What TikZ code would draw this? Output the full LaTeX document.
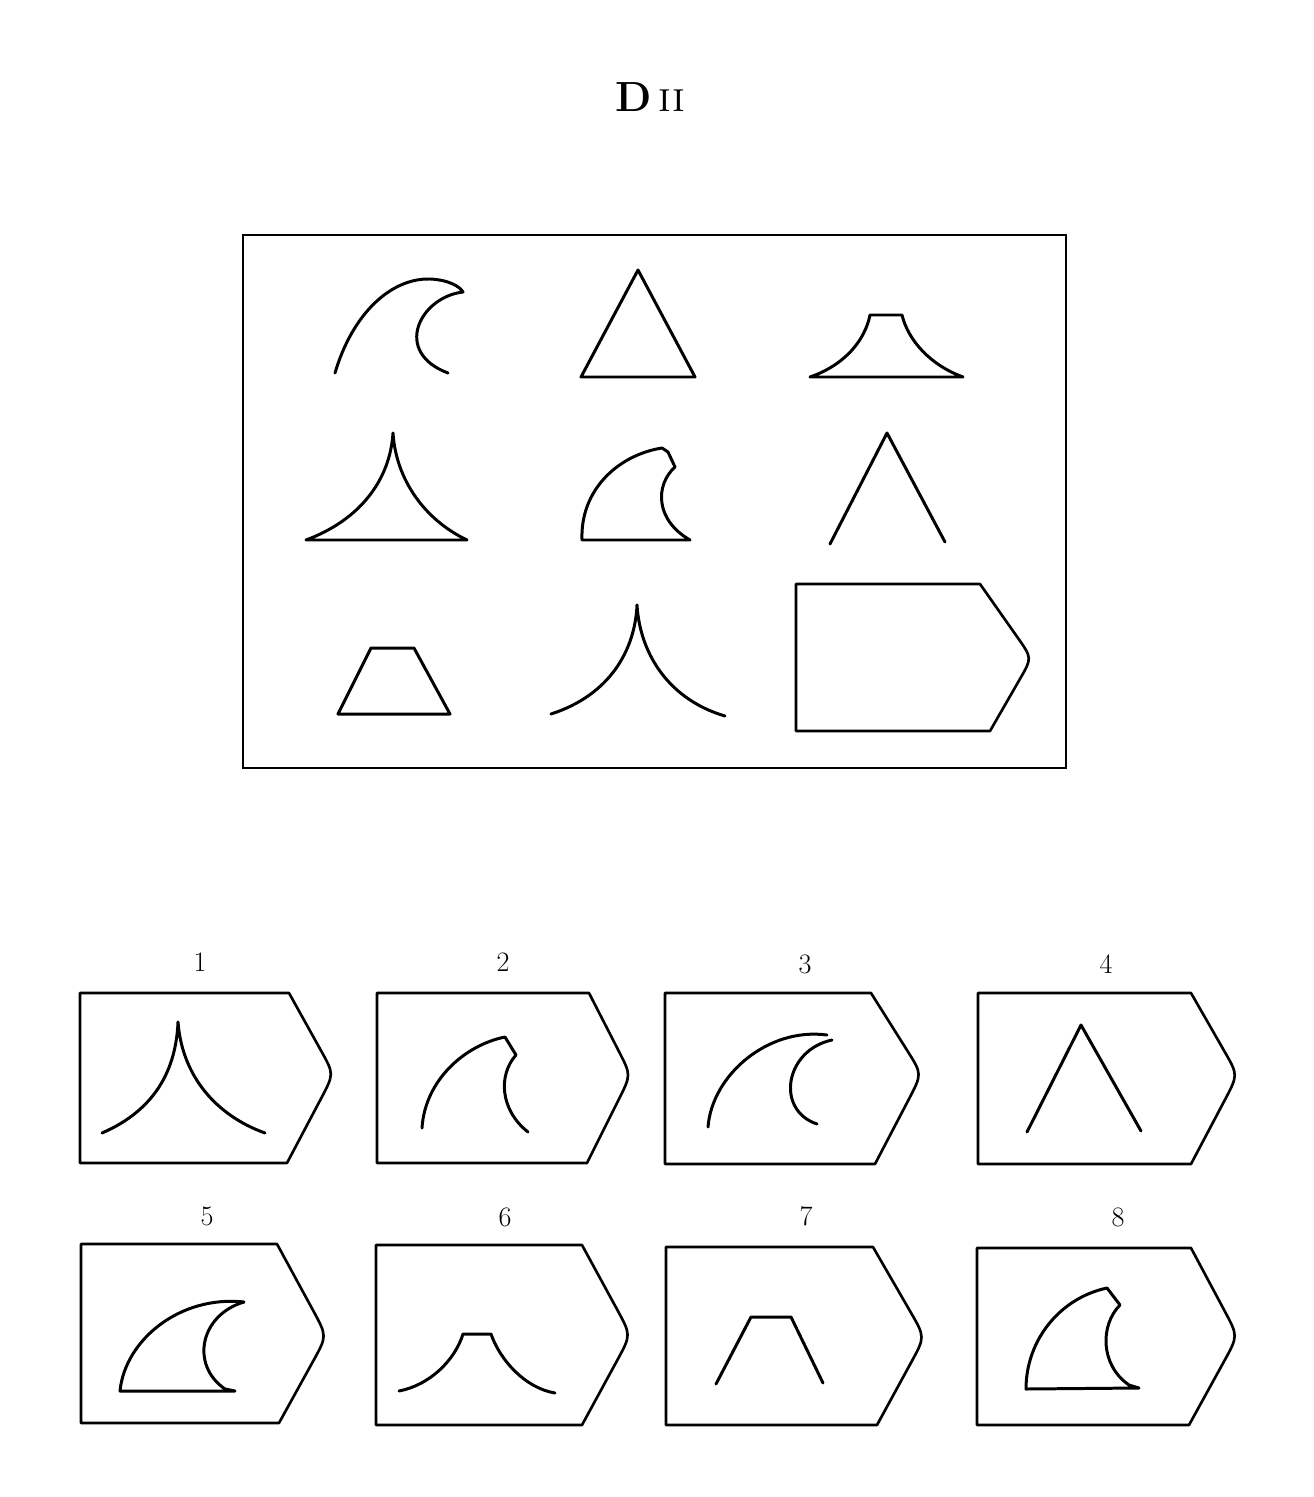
\documentclass[tikz,border=0pt]{standalone}
\usetikzlibrary{calc}

\tikzstyle{fS}=[line width=1.1pt]
\tikzstyle{sS}=[line width=1.7pt,line cap=round,line join=round]
\tikzstyle{bS}=[line width=1.5pt,line join=round]
\tikzstyle{lS}=[inner sep=0pt,font=\fontsize{16}{18}\selectfont]
\tikzstyle{tS}=[inner sep=0pt,font=\fontsize{24}{28}\selectfont]

% name, left, top, bottom, top-right x, tip x, tip y, bottom-right x
\newcommand{\optbox}[8]{%
    \coordinate (#1tr) at (#5,#3);
    \coordinate (#1tp) at (#6,#7);
    \coordinate (#1br) at (#8,#4);
    \draw[bS] (#2,#3) -- (#1tr) -- ($(#1tr)!0.72!(#1tp)$) .. controls (#1tp) .. ($(#1tp)!0.28!(#1br)$) -- (#1br) -- (#2,#4) -- cycle;}

\begin{document}
\begin{tikzpicture}[x=0.02cm,y=-0.02cm]
    \useasboundingbox (0,0) rectangle (1313,1497);
    \draw (650,97) node[tS] (title) {\textbf{D}\,\textsc{ii}};

    % the matrix
    \draw[fS] (243,235) rectangle (1066,768);
    \draw[sS] (335,373) .. controls (352,315) and (390,278) .. (430,279) .. controls (450,280) and (460,287) .. (463,292)
        .. controls (420,297) and (392,352) .. (448,373);
    \draw[sS] (638,270) -- (695,377) -- (581,377) -- cycle;
    \draw[sS] (810,377) .. controls (845,365) and (865,340) .. (870,315) -- (902,315) .. controls (908,340) and (930,365) .. (963,377) -- cycle;

    \draw[sS] (306,540) .. controls (360,520) and (390,480) .. (393,433) .. controls (396,480) and (425,520) .. (467,540) -- cycle;
    \draw[sS] (582,540) .. controls (580,490) and (618,455) .. (662,448) -- (668,452) -- (675,467) .. controls (655,485) and (655,520) .. (690,540) -- cycle;
    \draw[sS] (830,544) -- (887,433) -- (945,542);

    \draw[sS] (338,714) -- (371,648) -- (414,648) -- (450,714) -- cycle;
    \draw[sS] (551,714) .. controls (610,695) and (635,650) .. (637,605) .. controls (640,655) and (670,700) .. (725,716);
    \optbox{ans}{796}{584}{731}{980}{1032}{658}{990}

    % the choices
    \draw (200,962) node[lS] (l1) {1};
    \draw (503,962) node[lS] (l2) {2};
    \draw (805,964) node[lS] (l3) {3};
    \draw (1106,964) node[lS] (l4) {4};
    \draw (207,1216) node[lS] (l5) {5};
    \draw (505,1217) node[lS] (l6) {6};
    \draw (806,1216) node[lS] (l7) {7};
    \draw (1118,1217) node[lS] (l8) {8};

    \optbox{o1}{80}{993}{1163}{289}{334}{1074}{287}
    \optbox{o2}{377}{993}{1163}{589}{631}{1075}{587}
    \optbox{o3}{665}{993}{1164}{871}{922}{1074}{875}
    \optbox{o4}{978}{993}{1164}{1191}{1238}{1075}{1191}
    \optbox{o5}{81}{1244}{1423}{277}{327}{1336}{279}
    \optbox{o6}{376}{1245}{1425}{582}{631}{1335}{582}
    \optbox{o7}{666}{1247}{1425}{873}{925}{1337}{877}
    \optbox{o8}{977}{1248}{1425}{1191}{1238}{1336}{1189}

    \draw[sS] (102,1133) .. controls (155,1110) and (176,1070) .. (178,1022) .. controls (182,1075) and (215,1115) .. (265,1133);
    \draw[sS] (422,1128) .. controls (425,1080) and (465,1045) .. (505,1037) -- (516,1055) .. controls (498,1075) and (500,1110) .. (528,1132);
    \draw[sS] (708,1127) .. controls (712,1075) and (768,1027) .. (827,1035);
    \draw[sS] (832,1040) .. controls (785,1050) and (775,1110) .. (817,1124);
    \draw[sS] (1027,1132) -- (1081,1025) -- (1141,1131);
    \draw[sS] (120,1391) .. controls (125,1340) and (180,1295) .. (244,1302) .. controls (200,1315) and (190,1365) .. (225,1389) -- (235,1391) -- cycle;
    \draw[sS] (399,1391) .. controls (430,1385) and (455,1360) .. (463,1334) -- (491,1334) .. controls (500,1360) and (525,1388) .. (555,1393);
    \draw[sS] (716,1384) -- (751,1317) -- (791,1317) -- (823,1383);
    \draw[sS] (1026,1389) .. controls (1026,1340) and (1060,1298) .. (1107,1288) -- (1120,1305) .. controls (1100,1325) and (1100,1365) .. (1129,1385) -- (1139,1388) -- cycle;
\end{tikzpicture}
\end{document}
